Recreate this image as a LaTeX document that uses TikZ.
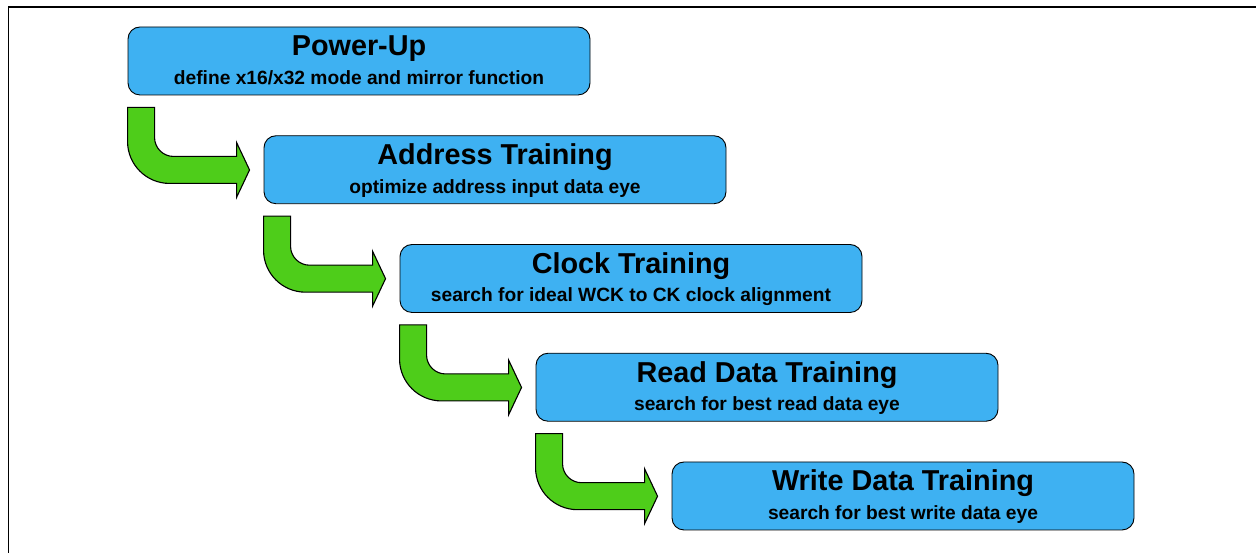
\documentclass[tikz,border=0pt]{standalone}
\usepackage{fontspec}
\setmainfont{Liberation Sans}
\usetikzlibrary{calc}
\definecolor{boxblue}{RGB}{62,177,242}
\definecolor{arrowgreen}{RGB}{78,205,26}
\begin{document}
\begin{tikzpicture}[x=1pt,y=1pt,
    stagebox/.style={draw=black,line width=0.9pt,fill=boxblue,rounded corners=12pt,
        minimum width=462pt,minimum height=68pt,inner sep=0pt},
    stagetitle/.style={anchor=base,inner sep=0pt,font=\bfseries\fontsize{28.8}{31}\selectfont},
    stagesub/.style={anchor=base,inner sep=0pt,font=\bfseries\fontsize{19.2}{22}\selectfont},
    bendarrow/.style={draw=black,line width=1.1pt,fill=arrowgreen,line join=miter}]
    \useasboundingbox (0,0) rectangle (1256,553);
    \draw[line width=1.4pt] (8.5,0)--(8.5,546)--(1256,546);
    \foreach \i/\ttl/\sub in {
        1/{Power-Up}/{define x16/x32 mode and mirror function},
        2/{Address Training}/{optimize address input data eye},
        3/{Clock Training}/{search for ideal WCK to CK clock alignment},
        4/{Read Data Training}/{search for best read data eye},
        5/{Write Data Training}/{search for best write data eye}}
    {
        \node[stagebox] (b\i) at ({359+136*(\i-1)},{492-108.75*(\i-1)}) {};
        \node[stagetitle] (t\i) at ($(b\i.center)+(0,5)$) {\ttl};
        \node[stagesub] (s\i) at ($(b\i.center)+(0,-23.5)$) {\sub};
    }
    \foreach \a/\b in {1/2,2/3,3/4,4/5}
    {
        \draw[bendarrow,shift={(b\a.south west)}] (0,-12)--(27,-12)--(27,-42)
            arc[start angle=180,end angle=270,radius=19]--(109,-61)--(109,-47)
            --(122,-74.5)--(109,-102)--(109,-88)--(42,-88)
            arc[start angle=270,end angle=180,radius=42]--cycle;
    }
\end{tikzpicture}
\end{document}
